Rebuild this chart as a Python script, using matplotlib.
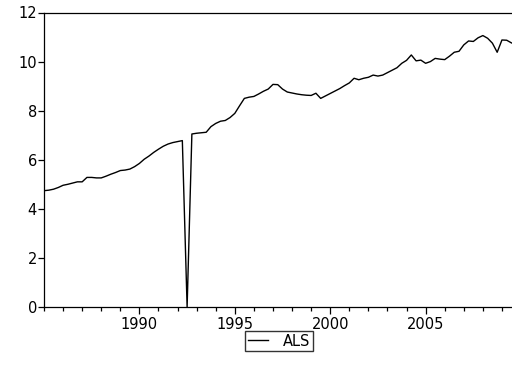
import numpy as np
import matplotlib
matplotlib.use('Agg')
import matplotlib.pyplot as plt
from matplotlib.ticker import MultipleLocator, FixedLocator

plt.rcParams['font.family'] = ['DejaVu Sans']

# quarterly series ALS, 1985Q1 onwards
start_year = 1985.0
als = [4.74, 4.76, 4.80, 4.87, 4.96, 5.00, 5.05, 5.10, 5.10, 5.28,
       5.28, 5.26, 5.26, 5.33, 5.41, 5.48, 5.56, 5.58, 5.62, 5.72,
       5.85, 6.02, 6.15, 6.30, 6.43, 6.55, 6.64, 6.70, 6.74, 6.78,
       0.00, 7.05, 7.08, 7.10, 7.12, 7.35, 7.48, 7.57, 7.60, 7.72,
       7.89, 8.20, 8.50, 8.55, 8.58, 8.68, 8.79, 8.88, 9.07, 9.06,
       8.88, 8.76, 8.72, 8.68, 8.65, 8.63, 8.62, 8.71, 8.50, 8.60,
       8.70, 8.80, 8.90, 9.02, 9.13, 9.32, 9.26, 9.32, 9.36, 9.45,
       9.41, 9.45, 9.55, 9.65, 9.75, 9.93, 10.05, 10.27, 10.03, 10.06,
       9.93, 10.00, 10.13, 10.10, 10.08, 10.22, 10.38, 10.42, 10.68, 10.84,
       10.82, 10.97, 11.06, 10.95, 10.75, 10.38, 10.88, 10.87, 10.76, 10.70]
t = start_year + 0.25 * np.arange(len(als))

fig = plt.figure(figsize=(5.12, 3.81), dpi=100)
ax = fig.add_axes([44/512, 74/381, 470/512, 294.5/381])

ax.plot(t, als, color='black', linewidth=1.0, label='ALS')

ax.set_xlim(1985.0, 1985.0 + 468/19)
ax.set_ylim(0, 12)
ax.xaxis.set_major_locator(FixedLocator([1990, 1995, 2000, 2005]))
ax.xaxis.set_minor_locator(MultipleLocator(1))
ax.yaxis.set_major_locator(MultipleLocator(2))

ax.tick_params(axis='x', which='major', direction='out', length=5, width=0.9, labelsize=10.5, pad=2.5)
ax.tick_params(axis='x', which='minor', direction='out', length=3, width=0.9)
ax.tick_params(axis='y', direction='out', length=4, width=0.9, labelsize=10.5, pad=1)
for s in ax.spines.values():
    s.set_linewidth(0.9)

fig.legend(loc='center', bbox_to_anchor=(279/512, 1 - 341/381), frameon=True,
           fancybox=False, edgecolor='black', fontsize=10.5, handlelength=1.35,
           borderpad=0.2, handletextpad=1.0, borderaxespad=0)

fig.savefig('out.png', dpi=100)
